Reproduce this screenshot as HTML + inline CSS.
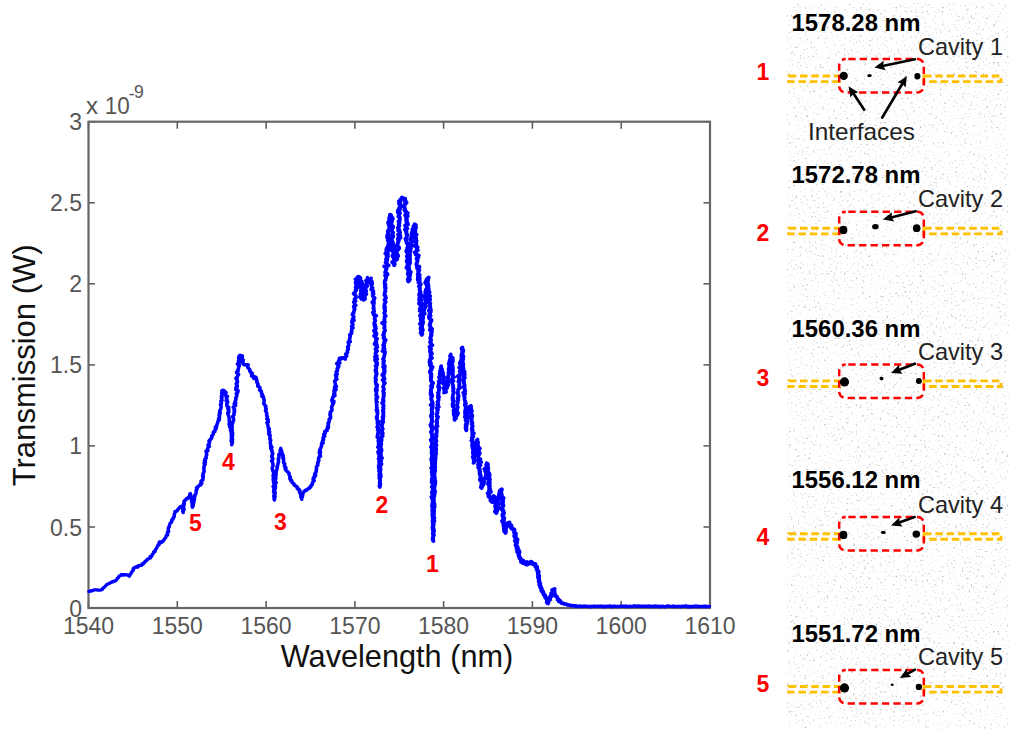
<!DOCTYPE html>
<html><head><meta charset="utf-8"><style>
html,body{margin:0;padding:0;background:#fff;}
body{width:1024px;height:729px;overflow:hidden;position:relative;font-family:"Liberation Sans", sans-serif;}
svg{position:absolute;left:0;top:0;}
</style></head><body>
<svg width="1024" height="729" viewBox="0 0 1024 729" font-family='"Liberation Sans", sans-serif'>
<defs><filter id="spk" x="0" y="0" width="1" height="1">
<feTurbulence type="fractalNoise" baseFrequency="0.45" numOctaves="2" seed="7"/>
<feColorMatrix type="matrix" values="0 0 0 0 0.6  0 0 0 0 0.6  0 0 0 0 0.6  6 0 0 0 -3.75"/>
<feGaussianBlur stdDeviation="0.6"/>
</filter></defs>
<rect x="787" y="3" width="222" height="726" filter="url(#spk)"/>
<g stroke="#555" stroke-width="1.5"><line x1="88.5" y1="608" x2="88.5" y2="601"/><line x1="88.5" y1="121.7" x2="88.5" y2="128.7"/><line x1="177.3" y1="608" x2="177.3" y2="601"/><line x1="177.3" y1="121.7" x2="177.3" y2="128.7"/><line x1="266.1" y1="608" x2="266.1" y2="601"/><line x1="266.1" y1="121.7" x2="266.1" y2="128.7"/><line x1="354.9" y1="608" x2="354.9" y2="601"/><line x1="354.9" y1="121.7" x2="354.9" y2="128.7"/><line x1="443.6" y1="608" x2="443.6" y2="601"/><line x1="443.6" y1="121.7" x2="443.6" y2="128.7"/><line x1="532.4" y1="608" x2="532.4" y2="601"/><line x1="532.4" y1="121.7" x2="532.4" y2="128.7"/><line x1="621.2" y1="608" x2="621.2" y2="601"/><line x1="621.2" y1="121.7" x2="621.2" y2="128.7"/><line x1="710.0" y1="608" x2="710.0" y2="601"/><line x1="710.0" y1="121.7" x2="710.0" y2="128.7"/><line x1="88.5" y1="608.0" x2="95.0" y2="608.0"/><line x1="710" y1="608.0" x2="703.5" y2="608.0"/><line x1="88.5" y1="527.0" x2="95.0" y2="527.0"/><line x1="710" y1="527.0" x2="703.5" y2="527.0"/><line x1="88.5" y1="445.9" x2="95.0" y2="445.9"/><line x1="710" y1="445.9" x2="703.5" y2="445.9"/><line x1="88.5" y1="364.9" x2="95.0" y2="364.9"/><line x1="710" y1="364.9" x2="703.5" y2="364.9"/><line x1="88.5" y1="283.8" x2="95.0" y2="283.8"/><line x1="710" y1="283.8" x2="703.5" y2="283.8"/><line x1="88.5" y1="202.8" x2="95.0" y2="202.8"/><line x1="710" y1="202.8" x2="703.5" y2="202.8"/><line x1="88.5" y1="121.7" x2="95.0" y2="121.7"/><line x1="710" y1="121.7" x2="703.5" y2="121.7"/></g>
<rect x="88.5" y="121.7" width="621.5" height="486.3" fill="none" stroke="#666" stroke-width="2.2"/>
<g fill="none" stroke="#0000ff" stroke-linejoin="round" stroke-linecap="round"><polyline points="88.8,591.4 90.0,591.4 91.0,590.7 92.2,590.9 93.2,590.3 94.4,589.8 95.6,589.8 96.9,589.8 98.2,590.2 99.3,590.2 100.4,590.2 101.5,589.8 102.4,589.2" stroke-width="3.3"/><polyline points="102.4,589.2 103.0,588.2 103.9,587.6 104.7,586.8 105.4,585.9 106.2,585.2 106.9,584.4 108.0,583.9 109.0,583.5 110.1,582.9 111.2,582.5 112.1,581.7 113.2,581.6" stroke-width="3.3"/><polyline points="113.2,581.6 114.3,581.2 115.3,580.9 116.1,580.2 116.9,579.4 117.3,578.3 118.3,577.8 118.6,576.7 119.4,576.0 120.5,575.7 121.4,574.6 122.6,575.1 123.7,574.7" stroke-width="3.4"/><polyline points="123.7,574.7 124.9,574.6 126.1,574.9 127.4,575.0 128.4,575.1 129.3,576.2 129.9,575.1 130.5,574.1 131.1,573.0 131.9,572.1 132.3,571.0 133.4,570.2 133.3,568.8" stroke-width="3.4"/><polyline points="133.3,568.8 134.3,567.7 135.3,567.3 136.2,566.6 137.7,567.2 138.2,565.7 139.5,565.7 140.5,565.2 141.8,565.2 142.2,563.9 143.6,563.7 144.1,562.5 145.0,561.8" stroke-width="3.4"/><polyline points="145.0,561.8 145.7,560.9 146.8,560.3 147.3,559.3 148.3,558.9 149.2,558.4 150.4,558.0 150.1,556.4 151.7,556.2 152.2,555.2 152.5,554.0 153.4,553.3 153.8,552.1" stroke-width="3.4"/><polyline points="153.8,552.1 155.0,551.5 155.3,550.2 155.9,549.2 156.5,548.2 157.0,547.2 157.6,546.2 157.9,545.1 159.2,544.6 158.9,542.7 159.9,541.8 161.5,542.5 162.2,541.7" stroke-width="3.4"/><polyline points="162.2,541.7 163.1,541.1 163.7,540.2 164.3,539.3 165.0,538.4 165.7,537.6 165.9,536.5 166.4,535.6 167.7,534.9 167.5,533.6 167.3,532.4 168.7,531.6 168.4,530.4" stroke-width="3.4"/><polyline points="168.4,530.4 168.2,529.2 168.3,528.0 169.2,527.0 169.3,525.8 169.6,524.7 170.0,523.5 170.7,522.7 171.7,522.1 171.6,520.9 171.7,519.9 172.9,519.3 173.1,518.3" stroke-width="3.4"/><polyline points="173.1,518.3 173.8,517.3 174.3,516.2 174.1,515.0 174.5,513.9 174.9,512.8 175.0,511.4 176.2,511.2 177.2,510.8 177.6,509.8 178.3,509.0 179.0,508.3 179.8,507.4" stroke-width="3.5"/><polyline points="179.8,507.4 180.8,506.7 182.1,506.2 182.5,507.2 182.6,508.3 183.3,509.2 182.8,510.4 183.2,511.5 183.1,512.5 182.7,511.4 183.6,510.4 184.1,509.3 183.4,508.2" stroke-width="3.5"/><polyline points="183.4,508.2 183.6,507.1 183.6,506.1 184.1,505.0 183.6,503.9 184.4,502.9 183.9,501.8 184.3,501.0 185.1,500.2 186.0,499.5 186.7,498.5 187.7,498.4 188.3,497.5" stroke-width="3.5"/><polyline points="188.3,497.5 189.2,496.7 189.6,495.6 189.8,494.4 190.4,493.6 190.4,494.7 191.0,495.7 191.3,496.7 191.4,497.8 191.1,498.9 191.4,500.0 192.1,500.9 191.8,502.1" stroke-width="3.5"/><polyline points="191.8,502.1 192.3,503.1 192.6,504.1 192.0,505.3 192.3,506.3 192.5,507.3 193.0,506.3 193.3,505.4 193.1,504.3 193.4,503.3 193.9,502.4 193.1,501.2 194.1,500.4" stroke-width="3.5"/><polyline points="194.1,500.4 194.5,499.4 194.5,498.4 194.0,497.2 194.9,496.3 194.8,495.1 195.7,494.2 196.0,493.1 196.2,491.9 196.0,490.9 196.3,489.9 197.1,489.0 196.6,487.9" stroke-width="3.5"/><polyline points="196.6,487.9 197.3,487.2 198.4,486.4 199.3,485.3 200.8,485.1 200.5,483.7 201.9,483.3 200.9,481.4 201.3,480.8 202.9,480.0 203.0,478.9 202.9,477.7 203.3,476.6" stroke-width="3.5"/><polyline points="203.3,476.6 202.6,475.5 203.2,474.5 203.1,473.5 203.6,472.5 204.2,471.5 203.9,470.4 204.1,469.4 203.7,468.4 203.9,467.3 204.3,466.3 204.2,465.3 205.0,464.3" stroke-width="3.5"/><polyline points="205.0,464.3 204.1,463.2 205.5,462.3 204.3,461.1 205.5,460.2 204.9,458.9 206.3,458.1 205.9,456.8 206.3,455.7 206.8,454.7 206.4,453.4 206.5,452.4 206.2,451.2" stroke-width="3.5"/><polyline points="206.2,451.2 208.0,450.6 207.4,449.3 207.7,448.3 208.2,447.3 209.4,446.6 207.9,445.1 209.1,444.3 209.0,443.2 209.7,442.3 208.9,441.0 209.8,440.1 210.7,439.2" stroke-width="3.5"/><polyline points="210.7,439.2 211.1,438.6 211.9,437.6 211.6,435.9 212.7,435.2 213.3,434.2 213.1,433.0 213.4,432.0 214.9,431.5 215.0,430.4 215.1,429.4 216.2,428.7 215.4,427.3" stroke-width="3.5"/><polyline points="215.4,427.3 216.6,426.6 216.6,425.5 216.8,424.6 217.4,423.7 217.6,422.7 217.9,421.7 218.2,420.8 219.3,420.1 218.5,418.8 219.4,418.0 219.5,416.9 219.2,415.8" stroke-width="3.5"/><polyline points="219.2,415.8 219.9,414.9 219.2,413.7 220.4,412.9 219.5,411.7 219.8,410.7 220.4,409.7 220.8,408.7 221.0,407.7 221.2,406.7 220.7,405.5 220.4,404.5 221.4,403.5" stroke-width="3.5"/><polyline points="221.4,403.5 221.4,402.5 220.8,401.3 222.1,400.5 221.8,399.4 221.3,398.2 222.2,397.3 221.3,396.1 221.8,395.1 222.7,394.2 221.6,393.0 222.7,392.1 222.0,390.9" stroke-width="3.5"/><polyline points="222.0,390.9 222.7,390.3 224.3,390.6 224.8,391.9 226.1,392.6 225.7,393.8 225.3,395.0 225.9,395.9 227.5,396.4 226.3,397.8 226.4,398.8 227.2,399.7 226.3,400.9" stroke-width="3.5"/><polyline points="226.3,400.9 227.8,401.7 227.4,402.8 226.8,403.9 226.8,405.0 226.9,406.0 228.4,406.9 228.9,407.9 227.8,409.0 228.9,409.9 228.3,411.0 229.0,412.0 227.8,413.2" stroke-width="3.5"/><polyline points="227.8,413.2 228.1,414.2 228.4,415.3 228.8,416.3 229.0,417.4 229.3,418.4 229.1,419.5 229.3,420.6 229.3,421.7 229.9,422.7 228.9,424.0 230.0,424.9 229.6,426.1" stroke-width="3.5"/><polyline points="229.6,426.1 229.8,427.2 231.2,428.1 231.8,429.1 230.4,430.4 231.3,431.4 231.1,432.5 231.4,433.5 231.2,434.5 231.9,435.5 231.4,436.6 231.6,437.6 231.5,438.6" stroke-width="3.5"/><polyline points="231.5,438.6 232.7,439.6 231.1,440.7 231.4,441.7 232.5,442.7 232.0,443.8 231.7,444.8 232.1,443.8 231.8,442.8 232.5,441.8 231.9,440.8 231.4,439.8 231.6,438.8" stroke-width="3.5"/><polyline points="231.6,438.8 232.4,437.8 231.7,436.8 232.5,435.8 232.6,434.8 232.5,433.8 232.7,432.8 232.1,431.7 232.3,430.7 232.0,429.7 232.0,428.7 231.6,427.7 232.1,426.7" stroke-width="3.5"/><polyline points="232.1,426.7 231.9,425.7 231.7,424.7 232.6,423.7 232.8,422.7 232.5,421.7 233.6,420.7 233.5,419.7 233.7,418.7 232.9,417.5 232.5,416.4 233.8,415.6 233.8,414.5" stroke-width="3.5"/><polyline points="233.8,414.5 234.1,413.5 234.1,412.5 234.7,411.5 234.0,410.4 234.6,409.4 233.9,408.3 233.2,407.1 234.4,406.2 235.7,405.4 234.1,404.0 235.8,403.2 235.0,402.0" stroke-width="3.5"/><polyline points="235.0,402.0 235.4,401.0 235.8,400.0 236.1,399.0 235.6,397.8 236.4,396.9 236.8,395.8 237.0,394.8 236.2,393.7 237.6,392.8 237.9,391.8 238.2,390.8 236.0,389.7" stroke-width="3.5"/><polyline points="236.0,389.7 237.0,388.7 235.8,387.6 237.2,386.7 237.4,385.6 236.4,384.6 236.2,383.5 237.3,382.6 237.6,381.6 236.8,380.5 237.2,379.5 235.8,378.4 237.0,377.4" stroke-width="3.5"/><polyline points="237.0,377.4 237.6,376.4 237.7,375.4 238.7,374.4 237.1,373.3 236.4,372.2 238.2,371.3 237.6,370.2 238.3,369.2 238.6,368.1 238.6,367.1 239.3,366.1 239.3,365.1" stroke-width="3.5"/><polyline points="239.3,365.1 237.4,363.9 238.5,362.9 239.9,361.9 238.4,360.7 239.4,359.7 238.8,358.6 238.6,357.5 240.0,356.5 239.0,356.1 240.2,355.2 240.7,355.6 242.4,356.1" stroke-width="3.5"/><polyline points="242.4,356.1 242.3,357.2 241.6,358.5 242.4,359.2 243.4,360.0 242.8,361.2 243.1,362.2 242.8,363.3 243.3,364.2 244.2,364.8 245.5,364.7 246.7,364.9 248.1,364.9" stroke-width="3.5"/><polyline points="248.1,364.9 247.5,366.3 247.8,367.3 248.3,368.2 249.2,368.9 250.0,369.8 249.6,371.0 250.7,371.7 250.8,372.8 252.3,373.2 252.1,374.5 251.5,376.0 253.4,376.3" stroke-width="3.5"/><polyline points="253.4,376.3 254.2,377.1 253.7,378.4 255.5,378.2 254.8,376.7 256.1,377.5 256.4,378.6 256.4,379.7 257.1,380.7 256.7,381.9 257.1,382.9 258.1,383.9 257.7,385.1" stroke-width="3.5"/><polyline points="257.7,385.1 257.7,386.1 258.9,386.7 259.9,387.4 259.9,389.0 259.6,390.2 261.2,390.8 261.5,391.8 261.3,393.0 262.0,393.9 262.6,394.8 261.7,396.2 263.4,396.9" stroke-width="3.5"/><polyline points="263.4,396.9 263.5,397.9 263.8,399.0 264.2,400.0 264.1,401.1 263.9,402.3 263.6,403.5 264.3,404.4 265.0,405.3 265.9,406.2 265.5,407.4 266.2,408.4 265.9,409.4" stroke-width="3.5"/><polyline points="265.9,409.4 265.4,410.6 266.0,411.5 266.4,412.5 266.8,413.5 266.6,414.6 266.6,415.6 267.4,416.6 267.3,417.6 266.7,418.8 268.2,419.6 267.7,420.7 268.2,421.7" stroke-width="3.5"/><polyline points="268.2,421.7 266.9,422.9 267.6,423.9 267.8,424.9 268.0,425.9 268.2,427.0 268.3,428.0 269.4,428.9 268.6,430.0 268.6,431.1 269.8,432.0 268.7,433.2 269.0,434.2" stroke-width="3.5"/><polyline points="269.0,434.2 270.2,435.1 269.8,436.2 269.9,437.2 270.1,438.2 269.8,439.3 270.8,440.2 270.4,441.3 270.3,442.4 270.2,443.4 270.6,444.4 270.9,445.4 270.6,446.5" stroke-width="3.5"/><polyline points="270.6,446.5 272.0,447.3 270.7,448.6 271.5,449.5 272.0,450.5 271.8,451.5 272.6,452.5 272.8,453.6 272.0,454.7 272.3,455.7 271.6,456.8 272.5,457.7 272.7,458.8" stroke-width="3.5"/><polyline points="272.7,458.8 272.7,459.8 271.5,460.9 272.3,461.9 272.7,462.9 272.9,464.0 273.1,465.0 272.7,466.1 272.5,467.1 272.2,468.2 272.3,469.2 272.8,470.2 273.2,471.2" stroke-width="3.5"/><polyline points="273.2,471.2 273.4,472.2 274.1,473.2 273.6,474.2 273.0,475.3 273.4,476.3 273.2,477.4 274.0,478.3 273.1,479.4 273.4,480.4 273.6,481.5 273.5,482.5 274.7,483.5" stroke-width="3.5"/><polyline points="274.7,483.5 274.0,484.5 274.2,485.5 273.1,486.6 274.0,487.6 274.1,488.6 273.6,489.7 274.4,490.7 273.5,491.8 274.4,492.8 274.2,493.8 274.6,494.8 273.9,495.9" stroke-width="3.5"/><polyline points="273.9,495.9 275.1,496.9 274.0,497.9 274.7,499.0 274.4,500.0 274.0,498.9 274.6,497.9 274.7,496.9 274.9,495.9 274.8,494.9 275.0,493.8 275.2,492.8 274.7,491.8" stroke-width="3.5"/><polyline points="274.7,491.8 274.4,490.7 274.5,489.7 275.3,488.7 274.9,487.6 275.6,486.6 275.2,485.6 274.8,484.5 275.7,483.6 276.2,482.6 275.4,481.5 275.1,480.4 275.2,479.4" stroke-width="3.5"/><polyline points="275.2,479.4 276.0,478.4 275.4,477.3 275.6,476.3 276.1,475.4 276.0,474.3 276.2,473.2 276.1,472.2 276.2,471.1 276.7,470.1 276.9,469.1 277.3,468.1 277.0,467.0" stroke-width="3.5"/><polyline points="277.0,467.0 277.5,466.0 277.8,465.0 277.8,463.9 278.2,462.9 278.6,462.0 278.4,460.9 278.5,459.8 278.2,458.7 279.0,457.8 279.0,456.7 279.1,455.7 279.0,454.6" stroke-width="3.5"/><polyline points="279.0,454.6 279.8,453.7 281.0,452.8 280.2,451.6 280.2,450.6 280.5,449.6 280.8,448.4 280.8,449.5 281.5,450.5 281.8,451.5 281.8,452.7 282.1,453.7 282.7,454.7" stroke-width="3.5"/><polyline points="282.7,454.7 283.2,455.7 282.8,456.8 283.6,457.7 283.0,458.9 283.7,459.8 283.7,460.9 283.5,462.0 283.8,463.0 284.8,463.9 284.5,465.0 284.4,466.0 285.2,467.0" stroke-width="3.5"/><polyline points="285.2,467.0 286.0,467.9 285.1,469.1 285.9,469.9 286.6,470.9 287.5,471.6 288.3,472.4 289.1,473.2 288.9,474.4 289.5,475.3 289.7,476.4 290.4,477.3 290.0,478.5" stroke-width="3.5"/><polyline points="290.0,478.5 290.8,479.4 290.6,480.5 291.8,480.8 292.0,482.4 292.9,483.1 293.9,483.8 294.2,485.2 295.3,485.7 296.3,486.4 297.2,487.1 297.3,488.6 298.5,489.1" stroke-width="3.6"/><polyline points="298.5,489.1 299.2,489.8 300.0,490.7 299.4,491.9 299.9,492.8 300.5,493.8 300.7,494.9 301.5,495.8 300.8,497.0 301.7,497.9 301.8,499.1 301.6,497.9 301.9,496.9" stroke-width="3.6"/><polyline points="301.9,496.9 302.5,496.0 302.8,494.9 302.6,493.7 303.3,492.8 303.7,492.0 304.6,491.2 305.4,490.3 306.6,490.1 307.4,489.4 308.3,488.7 309.4,488.1 310.1,487.2" stroke-width="3.6"/><polyline points="310.1,487.2 310.9,486.4 311.1,485.4 312.3,484.6 312.3,483.5 312.6,482.5 313.1,481.5 314.2,480.7 313.1,479.3 313.3,478.2 314.6,477.5 314.3,476.2 315.5,475.4" stroke-width="3.6"/><polyline points="315.5,475.4 314.7,474.2 315.1,473.2 316.0,472.3 316.2,471.3 316.2,470.2 316.5,469.2 316.4,468.2 316.5,467.1 316.9,466.1 317.8,465.2 317.7,464.2 317.7,463.1" stroke-width="3.6"/><polyline points="317.7,463.1 318.0,462.1 318.5,461.1 318.9,460.1 318.5,459.0 318.7,458.0 319.2,457.0 320.5,456.2 319.6,454.9 320.3,454.0 319.2,452.7 320.5,451.9 319.6,450.7" stroke-width="3.6"/><polyline points="319.6,450.7 320.0,449.7 320.4,448.7 320.9,447.7 321.2,446.7 321.5,445.7 321.7,444.7 321.5,443.6 323.2,442.9 322.4,441.6 322.7,440.6 323.6,439.8 323.3,438.6" stroke-width="3.6"/><polyline points="323.3,438.6 323.3,437.6 323.6,436.7 324.8,436.1 323.8,434.6 324.3,433.7 325.3,433.0 324.7,431.6 325.8,431.0 327.1,430.6 326.8,429.3 327.5,428.5 328.3,427.7" stroke-width="3.6"/><polyline points="328.3,427.7 327.5,426.5 328.5,425.6 328.2,424.5 328.1,423.4 328.8,422.4 329.1,421.4 329.1,420.4 329.2,419.3 330.3,418.5 330.6,417.5 330.5,416.4 330.3,415.3" stroke-width="3.6"/><polyline points="330.3,415.3 330.0,414.2 330.3,413.2 330.4,412.1 331.3,411.2 331.9,410.3 332.0,409.3 331.7,408.2 331.6,407.2 332.1,406.3 332.3,405.3 332.7,404.3 333.4,403.4" stroke-width="3.6"/><polyline points="333.4,403.4 332.3,402.2 334.0,401.5 331.8,400.1 332.2,399.1 332.5,398.2 332.9,397.2 333.5,396.3 335.0,395.6 333.6,394.3 334.8,393.5 334.1,392.4 334.6,391.4" stroke-width="3.6"/><polyline points="334.6,391.4 334.0,390.3 336.1,389.5 334.8,388.3 334.5,387.3 336.4,386.4 335.2,385.3 335.5,384.2 335.2,383.2 334.9,382.1 334.6,381.1 335.5,380.1 336.7,379.2" stroke-width="3.6"/><polyline points="336.7,379.2 336.1,378.1 335.8,377.0 336.7,376.1 335.5,374.9 337.2,374.1 336.5,372.9 336.2,371.8 337.3,371.0 337.5,369.9 337.1,368.8 337.7,367.9 338.4,366.9" stroke-width="3.6"/><polyline points="338.4,366.9 338.8,366.0 337.6,364.6 336.7,363.4 339.9,363.0 338.6,361.6 338.7,360.6 339.5,359.7 339.4,358.3 340.4,359.3 341.4,357.8 342.4,358.5 343.4,357.8" stroke-width="3.6"/><polyline points="343.4,357.8 345.3,359.0 344.8,357.5 346.1,356.8 346.7,355.9 345.7,354.1 346.8,353.4 347.6,352.5 347.3,351.4 347.4,350.4 348.2,349.5 348.4,348.5 347.6,347.3" stroke-width="3.6"/><polyline points="347.6,347.3 348.1,346.4 348.8,345.5 348.7,344.4 348.8,343.4 348.1,342.2 350.3,341.6 349.2,340.3 349.7,339.3 349.7,338.2 350.0,337.1 350.3,336.1 349.8,334.9" stroke-width="3.6"/><polyline points="349.8,334.9 350.9,334.0 351.7,333.1 351.3,331.9 351.8,330.9 351.8,329.8 351.7,328.7 353.1,327.8 351.5,326.5 352.4,325.6 353.0,324.6 352.7,323.5 351.9,322.3" stroke-width="3.6"/><polyline points="351.9,322.3 352.0,321.2 354.1,320.4 352.4,319.1 353.2,318.2 353.8,317.2 353.6,316.1 352.4,314.8 352.5,313.7 353.9,312.8 353.6,311.7 354.1,310.7 354.5,309.6" stroke-width="3.6"/><polyline points="354.5,309.6 354.8,308.6 353.8,307.3 353.7,306.2 355.8,305.3 354.7,304.2 354.3,303.1 353.7,302.1 355.7,301.1 354.4,300.0 354.6,298.9 356.0,297.9 355.8,296.9" stroke-width="3.6"/><polyline points="355.8,296.9 356.0,295.8 354.7,294.7 353.5,293.6 355.0,292.6 355.6,291.6 355.4,290.5 356.7,289.7 356.4,288.6 355.4,287.5 356.7,286.6 356.3,285.5 356.1,284.5" stroke-width="3.6"/><polyline points="356.1,284.5 357.5,283.6 355.4,282.4 357.6,281.6 357.8,280.6 355.3,279.4 356.9,278.5 357.2,277.4 358.5,276.6 360.3,277.5 360.6,278.5 359.9,279.6 360.5,280.6" stroke-width="3.6"/><polyline points="360.5,280.6 361.9,281.5 359.3,282.8 359.7,283.8 361.2,284.7 359.9,285.9 359.1,287.0 362.0,287.8 361.2,288.9 361.4,290.0 360.6,291.0 361.4,292.0 362.3,292.9" stroke-width="3.6"/><polyline points="362.3,292.9 360.3,294.1 361.6,295.0 360.8,296.0 359.7,297.1 362.1,298.0 361.3,299.0 362.4,298.1 361.7,297.0 362.3,296.0 362.0,295.0 364.3,294.2 362.7,293.0" stroke-width="3.6"/><polyline points="362.7,293.0 362.5,292.0 362.4,291.0 362.7,290.0 361.2,288.9 362.4,288.0 363.3,287.1 361.9,285.9 362.9,285.0 363.1,284.0 363.5,285.0 361.2,286.2 362.7,287.1" stroke-width="3.6"/><polyline points="362.7,287.1 363.1,288.0 364.1,288.9 363.5,290.0 363.9,291.0 363.9,292.0 363.7,293.0 362.0,294.2 363.1,295.1 362.9,296.1 363.2,297.1 362.2,298.2 365.0,298.9" stroke-width="3.6"/><polyline points="365.0,298.9 363.6,299.9 364.9,299.0 365.0,298.0 364.9,297.0 364.5,296.0 365.6,295.1 366.5,294.1 365.4,293.0 365.2,292.0 366.4,291.1 365.3,290.0 365.3,289.0" stroke-width="3.6"/><polyline points="365.3,289.0 366.0,288.0 364.0,286.8 367.4,286.1 365.9,285.0 366.6,284.0 366.7,282.9 367.0,281.9 365.8,280.5 368.5,279.9 367.7,278.7 367.4,277.7 368.0,280.4" stroke-width="3.6"/><polyline points="368.0,280.4 371.2,278.3 369.8,279.7 370.7,280.6 372.0,281.5 369.4,283.0 372.4,283.6 371.2,284.9 371.6,285.9 371.6,287.0 372.7,287.9 371.0,289.3 372.1,290.2" stroke-width="3.6"/><polyline points="372.1,290.2 373.4,291.1 373.5,292.1 372.5,293.2 373.7,294.1 372.6,295.2 372.8,296.2 373.6,297.1 374.8,298.0 374.4,299.1 373.3,300.2 374.1,301.2 372.3,302.3" stroke-width="3.6"/><polyline points="372.3,302.3 374.1,303.3 373.5,304.3 373.3,305.3 373.8,306.4 373.7,307.4 373.2,308.4 374.1,309.4 373.8,310.5 374.3,311.5 372.6,312.6 374.0,313.6 373.6,314.6" stroke-width="3.6"/><polyline points="373.6,314.6 376.4,315.6 374.6,316.7 375.1,317.6 374.4,318.7 374.8,319.7 375.4,320.6 374.9,321.7 374.2,322.8 374.1,323.8 375.4,324.7 374.3,325.8 375.6,326.7" stroke-width="3.6"/><polyline points="375.6,326.7 374.9,327.7 376.0,328.7 374.7,329.8 373.8,330.8 375.8,331.7 374.7,332.8 376.7,333.7 376.1,334.8 373.9,335.9 375.8,336.8 375.5,337.9 377.0,338.8" stroke-width="3.6"/><polyline points="377.0,338.8 376.0,339.9 376.5,340.9 375.2,342.0 376.5,342.9 374.4,344.1 377.0,345.0 376.0,346.0 377.5,347.0 376.4,348.0 375.3,349.0 376.2,350.0 377.0,351.0" stroke-width="3.6"/><polyline points="377.0,351.0 375.8,352.0 375.5,353.0 375.8,354.0 375.4,355.0 377.0,356.0 374.8,357.0 375.6,358.0 377.4,359.0 374.8,360.0 376.3,361.0 375.7,362.0 377.3,363.0" stroke-width="3.6"/><polyline points="377.3,363.0 376.4,364.0 377.2,365.0 375.4,366.0 376.1,367.0 376.5,368.0 376.2,369.0 375.2,370.0 376.4,371.0 375.5,372.0 376.6,373.0 376.9,374.0 376.2,375.0" stroke-width="3.6"/><polyline points="376.2,375.0 376.0,376.0 375.7,377.0 375.2,378.0 376.1,379.0 376.0,380.0 375.4,381.0 375.6,382.0 375.9,383.0 375.8,384.0 377.3,385.0 376.4,386.0 377.0,387.0" stroke-width="3.6"/><polyline points="377.0,387.0 376.3,388.0 375.6,389.0 377.2,390.0 375.6,391.0 376.6,392.0 376.4,393.0 376.6,394.0 375.9,395.0 376.8,396.0 377.6,397.0 376.3,398.0 376.6,399.0" stroke-width="3.6"/><polyline points="376.6,399.0 376.2,400.0 376.2,401.0 377.3,402.0 376.5,403.0 376.6,404.0 376.8,405.0 376.7,406.0 376.6,407.0 377.1,408.0 376.9,409.0 376.3,410.0 377.5,411.0" stroke-width="3.6"/><polyline points="377.5,411.0 377.0,412.0 377.6,413.0 377.6,414.0 377.3,415.0 377.1,416.0 376.4,417.0 377.4,418.0 376.8,419.0 377.1,420.0 377.4,421.0 379.2,421.9 377.5,423.0" stroke-width="3.6"/><polyline points="377.5,423.0 377.6,424.0 378.2,425.0 377.7,426.0 377.0,427.0 378.4,428.0 378.2,429.0 377.5,430.0 378.9,430.9 378.6,432.0 378.0,433.0 377.7,434.0 377.6,435.0" stroke-width="3.6"/><polyline points="377.6,435.0 377.9,436.0 377.1,437.1 378.2,438.0 379.1,439.0 378.6,440.0 378.2,441.0 378.4,442.0 379.6,443.0 378.4,444.0 379.1,445.0 378.8,446.0 378.0,447.0" stroke-width="3.6"/><polyline points="378.0,447.0 378.8,448.0 379.1,449.0 378.9,450.0 379.2,451.0 377.9,452.0 378.5,453.0 378.5,454.0 379.3,455.0 379.3,456.0 378.9,457.0 380.1,458.0 378.6,459.0" stroke-width="3.6"/><polyline points="378.6,459.0 379.7,460.0 379.1,461.0 379.0,462.0 379.6,463.0 379.1,464.0 379.0,465.0 378.5,466.0 379.2,467.0 378.6,468.0 379.2,469.0 379.5,470.0 379.1,471.0" stroke-width="3.6"/><polyline points="379.1,471.0 379.8,472.0 379.5,473.0 379.3,474.0 379.1,475.0 379.5,476.0 380.3,477.0 379.1,478.0 379.7,479.0 379.9,480.0 380.2,481.0 379.6,482.0 379.7,483.0" stroke-width="3.6"/><polyline points="379.7,483.0 379.6,484.0 380.0,485.0 379.3,486.0 379.9,487.0 380.2,486.0 380.1,485.0 380.6,484.0 379.8,483.0 380.0,482.0 380.1,481.0 379.9,480.0 380.0,479.0" stroke-width="3.6"/><polyline points="380.0,479.0 379.8,478.0 380.7,477.0 381.0,476.0 379.9,475.0 380.8,474.0 379.9,473.0 380.1,472.0 380.4,471.0 380.6,470.0 380.8,469.0 379.7,468.0 380.0,467.0" stroke-width="3.6"/><polyline points="380.0,467.0 380.7,466.0 380.6,465.0 381.7,464.0 380.6,463.0 380.5,462.0 381.4,461.0 379.6,460.0 380.0,459.0 382.2,458.0 380.7,457.0 381.0,456.0 380.9,455.0" stroke-width="3.6"/><polyline points="380.9,455.0 380.6,454.0 381.0,453.0 380.5,452.0 381.6,451.0 381.6,450.0 381.5,449.0 380.8,448.0 380.3,447.0 381.1,446.0 380.8,445.0 381.6,444.0 380.6,443.0" stroke-width="3.6"/><polyline points="380.6,443.0 381.0,442.0 381.5,441.0 381.7,440.0 381.6,439.0 381.0,438.0 381.3,437.0 382.8,436.1 382.3,435.0 381.4,434.0 382.9,433.1 381.9,432.0 382.0,431.0" stroke-width="3.7"/><polyline points="382.0,431.0 381.6,430.0 382.9,429.0 382.2,428.0 382.2,427.0 381.8,426.0 381.6,425.0 382.5,424.0 382.4,423.0 383.3,422.0 382.1,421.0 382.4,420.0 383.2,419.0" stroke-width="3.7"/><polyline points="383.2,419.0 383.2,418.0 382.4,417.0 383.6,416.0 383.1,415.0 383.4,414.0 383.2,413.0 383.6,412.0 382.8,411.0 382.9,410.0 383.7,409.0 383.3,408.0 383.3,407.0" stroke-width="3.7"/><polyline points="383.3,407.0 383.8,406.0 383.3,405.0 383.4,404.0 382.0,403.0 383.0,402.0 383.8,401.0 382.8,400.0 383.2,399.0 383.5,398.0 383.3,397.0 383.9,396.0 383.7,395.0" stroke-width="3.7"/><polyline points="383.7,395.0 383.4,394.0 384.1,393.0 383.3,392.0 383.1,391.0 383.7,390.0 384.0,389.0 383.5,388.0 383.0,387.0 383.3,386.0 383.8,385.0 384.1,384.0 384.8,383.0" stroke-width="3.7"/><polyline points="384.8,383.0 383.7,382.0 383.6,381.0 382.5,380.0 384.6,379.0 384.4,378.0 383.8,377.0 383.4,376.0 382.2,375.0 384.3,374.0 383.4,373.0 384.8,372.0 384.4,371.0" stroke-width="3.7"/><polyline points="384.4,371.0 384.7,370.0 383.8,369.0 384.7,368.0 383.0,367.0 384.9,366.0 383.9,365.0 383.2,364.0 383.7,363.0 383.3,362.0 384.2,361.0 383.5,360.0 383.2,359.0" stroke-width="3.7"/><polyline points="383.2,359.0 383.8,358.0 383.9,357.0 384.2,356.0 384.5,355.0 384.9,354.0 384.3,353.0 385.2,352.0 382.4,351.0 384.0,350.0 384.7,349.0 383.2,348.0 384.0,347.0" stroke-width="3.7"/><polyline points="384.0,347.0 384.3,346.0 383.1,345.0 383.8,344.0 384.6,343.0 384.0,342.0 385.3,341.0 385.8,340.0 384.2,339.0 383.4,338.0 384.2,337.0 383.8,336.0 383.2,335.0" stroke-width="3.7"/><polyline points="383.2,335.0 384.0,334.0 383.9,333.0 384.0,332.0 384.9,331.0 385.1,330.0 384.6,329.0 384.1,328.0 384.7,327.0 384.4,326.0 384.6,325.0 383.7,324.0 382.2,322.9" stroke-width="3.7"/><polyline points="382.2,322.9 385.1,322.0 384.1,321.0 384.2,320.0 384.6,319.0 384.6,318.0 384.4,317.0 385.8,316.0 384.8,315.0 384.9,314.0 384.1,313.0 384.7,312.0 385.1,311.0" stroke-width="3.7"/><polyline points="385.1,311.0 384.7,310.0 385.1,309.0 384.1,308.0 385.2,307.0 384.1,306.0 384.6,305.0 384.4,304.0 385.1,303.0 385.8,302.0 385.2,301.0 384.4,300.0 385.2,299.0" stroke-width="3.7"/><polyline points="385.2,299.0 385.9,298.0 385.7,297.0 385.5,296.0 384.3,295.0 384.8,294.0 384.7,293.0 384.9,292.0 385.5,291.0 385.3,290.0 385.1,289.0 385.8,288.0 384.9,286.9" stroke-width="3.8"/><polyline points="384.9,286.9 385.2,285.9 385.6,284.8 384.5,283.8 384.9,282.7 384.6,281.7 384.9,280.7 385.7,279.7 385.7,278.6 386.1,277.6 386.2,276.6 385.0,275.5 387.5,274.5" stroke-width="3.8"/><polyline points="387.5,274.5 387.1,273.5 385.1,272.5 385.5,271.5 385.7,270.5 386.3,269.5 386.7,268.5 386.2,267.5 384.1,266.4 388.7,265.5 387.0,264.5 387.0,263.5 385.7,262.4" stroke-width="3.8"/><polyline points="385.7,262.4 386.5,261.5 387.2,260.5 386.0,259.4 387.4,258.5 386.6,257.4 387.9,256.5 386.6,255.4 387.9,254.5 385.3,253.4 387.9,252.5 387.1,251.4 386.4,250.4" stroke-width="3.8"/><polyline points="386.4,250.4 387.7,249.4 386.5,248.4 387.5,247.5 387.7,246.5 388.0,245.5 389.1,244.6 388.5,243.5 389.6,242.6 388.2,241.4 387.8,240.4 388.1,239.4 387.9,238.3" stroke-width="3.8"/><polyline points="387.9,238.3 387.0,237.2 388.3,236.3 387.2,235.2 388.1,234.2 388.2,233.2 388.0,232.2 387.7,231.1 388.8,230.1 388.7,229.1 390.1,228.2 389.5,227.1 389.9,226.1" stroke-width="3.9"/><polyline points="389.9,226.1 388.7,225.0 388.9,223.9 388.1,222.8 388.5,221.8 390.1,220.9 389.3,219.8 389.4,218.8 389.1,217.7 391.1,216.8 389.8,215.7 390.0,214.6 391.2,215.6" stroke-width="3.9"/><polyline points="391.2,215.6 390.5,216.9 392.4,217.8 392.9,218.9 390.8,220.3 392.1,221.2 391.7,222.3 391.2,223.4 391.4,224.5 391.8,225.5 393.2,226.5 392.8,227.6 392.2,228.7" stroke-width="3.9"/><polyline points="392.2,228.7 391.7,229.7 391.9,230.8 392.1,231.8 393.2,232.8 392.5,233.9 391.7,234.9 393.3,236.1 392.9,237.0 391.5,237.9 390.9,238.9 391.8,240.0 392.1,241.0" stroke-width="3.9"/><polyline points="392.1,241.0 392.8,242.1 392.0,243.0 392.5,244.1 391.6,245.0 391.0,245.9 391.2,247.0 390.4,247.9 392.3,249.1 390.3,249.7 392.7,249.4 392.8,248.3 391.4,246.7" stroke-width="3.9"/><polyline points="391.4,246.7 392.7,246.0 392.0,244.7 393.2,244.0 393.0,245.0 392.4,246.0 394.1,247.0 394.4,248.0 392.9,249.0 393.7,250.0 392.2,251.0 394.4,252.0 394.1,253.0" stroke-width="3.9"/><polyline points="394.1,253.0 395.9,253.9 392.6,255.0 392.5,256.0 393.3,257.0 393.9,258.0 395.4,258.9 394.9,260.0 394.2,261.0 392.2,262.1 393.1,263.0 394.4,264.0 394.3,265.0" stroke-width="3.9"/><polyline points="394.3,265.0 394.4,264.0 394.5,263.0 393.3,261.9 393.8,261.0 395.1,260.1 394.9,259.0 394.1,258.0 396.6,257.2 394.8,256.0 394.3,255.0 395.5,254.1 395.5,253.1" stroke-width="3.9"/><polyline points="395.5,253.1 394.7,252.0 396.5,251.1 394.1,250.1 395.1,251.0 394.6,252.1 394.8,253.1 395.7,254.0 395.0,255.1 396.2,255.9 396.0,257.0 395.4,258.1 397.1,258.9" stroke-width="3.9"/><polyline points="397.1,258.9 395.9,260.0 395.5,258.9 397.0,258.1 396.0,257.0 398.1,256.1 397.9,255.1 396.1,254.0 396.9,253.0 396.6,252.0 396.9,251.0 397.6,250.0 398.4,249.1" stroke-width="3.9"/><polyline points="398.4,249.1 399.1,248.3 399.0,247.2 396.5,245.7 397.3,244.8 397.8,243.8 397.8,242.8 398.3,241.8 398.8,240.8 397.9,239.8 397.8,238.7 400.5,237.9 399.0,236.8" stroke-width="3.9"/><polyline points="399.0,236.8 400.4,235.9 398.0,234.7 399.8,233.8 400.1,232.8 399.9,231.8 398.1,230.7 399.3,229.7 398.2,228.7 397.9,227.7 398.9,226.7 399.4,225.7 398.8,224.6" stroke-width="3.9"/><polyline points="398.8,224.6 398.9,223.6 399.6,222.6 398.5,221.5 399.5,220.5 399.9,219.5 399.8,218.5 399.7,217.4 398.3,216.4 399.0,215.4 398.9,214.3 400.0,213.3 397.8,212.2" stroke-width="3.9"/><polyline points="397.8,212.2 399.5,211.3 398.0,210.2 400.1,209.2 399.0,208.2 399.6,207.2 400.5,206.2 401.1,205.6 399.0,203.7 400.4,203.0 398.8,201.3 400.7,200.7 400.6,199.5" stroke-width="3.9"/><polyline points="400.6,199.5 402.2,198.8 402.0,197.4 403.0,198.3 405.2,198.7 404.7,199.9 405.7,200.8 404.9,202.1 406.6,202.7 405.2,204.1 404.7,205.1 403.3,206.2 404.4,207.2" stroke-width="3.9"/><polyline points="404.4,207.2 404.6,208.2 405.1,209.2 404.4,210.2 406.0,211.1 405.6,212.2 407.8,213.1 406.6,214.1 405.1,215.2 407.8,216.1 406.0,217.2 406.3,218.2 406.7,219.2" stroke-width="3.9"/><polyline points="406.7,219.2 406.1,220.2 406.4,221.2 407.4,222.2 406.5,223.3 408.1,224.3 405.1,225.4 406.5,226.4 405.7,227.4 407.4,228.4 404.9,229.5 405.7,230.5 406.3,231.5" stroke-width="3.9"/><polyline points="406.3,231.5 406.4,232.6 406.3,233.6 407.3,234.6 406.8,235.7 406.9,236.7 406.4,237.7 405.4,238.8 405.8,239.8 406.6,240.8 406.3,241.9 407.2,242.9 407.4,243.9" stroke-width="3.9"/><polyline points="407.4,243.9 408.4,244.9 408.2,245.9 408.1,246.9 407.2,248.0 407.4,249.0 406.9,250.1 406.3,251.1 406.8,252.2 407.5,253.2 407.8,254.2 407.7,255.2 407.0,256.3" stroke-width="3.9"/><polyline points="407.0,256.3 408.3,257.2 408.9,258.2 407.8,259.3 406.8,260.4 406.7,261.4 407.3,262.4 409.4,263.4 408.0,264.5 407.3,265.5 407.1,266.6 406.5,267.7 408.9,268.6" stroke-width="3.9"/><polyline points="408.9,268.6 407.9,269.7 409.5,270.7 408.5,271.8 408.7,272.9 407.8,274.0 408.4,275.0 410.0,275.9 408.8,277.1 408.5,278.2 407.7,279.3 409.5,280.2 408.3,281.3" stroke-width="3.9"/><polyline points="408.3,281.3 408.6,280.3 409.9,279.3 408.9,278.2 409.2,277.2 409.6,276.2 408.6,275.1 410.2,274.1 408.0,273.0 410.9,272.1 408.9,271.0 408.7,269.9 408.9,268.9" stroke-width="3.9"/><polyline points="408.9,268.9 408.6,267.9 408.8,266.9 408.9,265.8 408.7,264.8 409.5,263.8 410.0,262.8 409.3,261.7 410.0,260.7 409.1,259.6 410.1,258.6 409.7,257.6 409.0,256.5" stroke-width="3.9"/><polyline points="409.0,256.5 410.1,255.6 409.9,254.5 409.5,253.5 410.1,252.5 410.6,251.4 409.2,250.3 409.9,249.4 410.9,248.4 410.5,247.4 411.3,246.4 412.8,245.6 409.7,244.3" stroke-width="3.9"/><polyline points="409.7,244.3 411.2,243.4 410.7,242.3 412.4,241.5 411.7,240.4 410.1,239.2 412.4,238.4 411.5,237.3 411.3,236.3 411.7,235.3 412.2,234.3 411.6,233.0 412.3,232.0" stroke-width="3.9"/><polyline points="412.3,232.0 414.1,231.3 412.3,229.7 413.0,228.7 414.5,228.0 413.4,226.4 414.4,225.4 414.7,224.3 415.9,225.3 415.4,226.4 416.0,227.4 415.4,228.4 415.1,229.5" stroke-width="3.9"/><polyline points="415.1,229.5 415.4,230.5 415.2,231.6 415.2,232.6 414.9,233.7 416.6,234.6 415.6,235.7 414.4,236.8 416.0,237.8 416.1,238.8 415.9,239.9 416.6,240.9 415.6,242.0" stroke-width="3.9"/><polyline points="415.6,242.0 416.1,243.0 416.3,244.0 415.6,245.1 415.3,246.2 417.6,247.1 416.9,248.1 416.7,249.2 417.8,250.2 416.1,251.3 414.9,252.5 416.1,253.4 415.8,254.5" stroke-width="3.9"/><polyline points="415.8,254.5 418.7,255.4 417.5,256.5 418.3,257.5 416.6,258.7 417.4,259.7 417.6,260.7 417.1,261.8 416.9,262.9 416.3,264.0 416.6,265.0 417.0,266.0 419.3,266.9" stroke-width="3.9"/><polyline points="419.3,266.9 417.0,268.1 418.0,269.0 419.4,270.0 418.1,271.1 418.5,272.1 418.5,273.1 417.7,274.2 419.7,275.1 418.1,276.2 417.8,277.3 419.8,278.2 417.8,279.4" stroke-width="3.9"/><polyline points="417.8,279.4 419.6,280.2 419.7,281.3 418.4,282.4 419.2,283.3 420.8,284.2 419.9,285.3 418.9,286.4 419.9,287.4 419.9,288.4 419.6,289.4 419.7,290.4 420.3,291.4" stroke-width="3.9"/><polyline points="420.3,291.4 420.5,292.4 419.5,293.5 419.0,294.5 422.0,295.4 419.7,296.5 419.4,297.6 420.9,298.5 419.1,299.7 421.5,300.5 419.7,301.7 419.2,302.7 419.3,303.7" stroke-width="3.9"/><polyline points="419.3,303.7 422.6,304.6 420.6,305.7 421.5,306.7 420.5,307.8 419.8,308.8 420.6,309.8 419.7,310.8 422.2,311.8 421.6,312.8 421.4,313.8 420.6,314.8 420.2,315.8" stroke-width="3.9"/><polyline points="420.2,315.8 421.8,316.8 421.9,317.8 420.6,318.8 422.2,319.8 420.9,320.8 421.9,321.8 421.4,322.8 419.9,323.9 421.6,324.8 421.4,325.8 422.1,326.8 421.1,327.8" stroke-width="3.9"/><polyline points="421.1,327.8 420.5,328.8 421.2,329.8 422.6,330.8 421.4,331.8 420.6,332.8 422.4,333.8 421.7,334.8 421.2,333.7 421.6,332.7 421.4,331.7 421.2,330.6 422.6,329.7" stroke-width="3.9"/><polyline points="422.6,329.7 422.3,328.7 420.8,327.5 421.7,326.6 422.0,325.6 421.9,324.5 422.9,323.6 422.7,322.6 423.2,321.6 422.0,320.5 422.5,319.5 422.9,318.5 423.0,317.5" stroke-width="3.9"/><polyline points="423.0,317.5 423.1,316.4 422.9,315.4 423.4,314.4 424.8,313.6 423.2,312.3 422.6,311.2 424.2,310.4 423.4,309.2 424.8,308.4 425.2,307.4 425.8,306.4 424.7,305.2" stroke-width="3.9"/><polyline points="424.7,305.2 423.5,304.0 426.1,303.3 425.7,302.3 426.1,301.3 425.3,300.1 425.1,299.1 425.5,298.1 424.1,296.9 426.4,296.1 425.3,295.0 425.4,294.0 426.2,293.0" stroke-width="3.9"/><polyline points="426.2,293.0 425.3,291.9 426.7,291.0 425.7,289.9 428.1,289.1 427.3,288.0 427.0,286.9 426.8,285.9 426.7,284.8 426.3,283.8 425.2,282.7 426.4,281.7 426.3,280.7" stroke-width="3.9"/><polyline points="426.3,280.7 426.6,279.7 427.2,278.7 428.7,277.5 428.3,278.6 428.0,279.7 428.0,280.8 427.1,282.0 425.8,283.2 428.2,283.9 427.7,285.1 428.4,286.0 428.3,287.1" stroke-width="3.9"/><polyline points="428.3,287.1 427.3,288.3 428.7,289.2 428.5,290.2 429.0,291.2 429.6,292.2 428.3,293.3 429.3,294.3 428.1,295.4 430.2,296.3 429.0,297.4 428.1,298.5 430.0,299.4" stroke-width="3.9"/><polyline points="430.0,299.4 429.3,300.5 428.4,301.6 429.3,302.5 430.3,303.5 430.0,304.6 429.6,305.6 430.3,306.6 430.2,307.6 429.9,308.7 430.9,309.7 428.8,310.8 430.6,311.7" stroke-width="3.9"/><polyline points="430.6,311.7 430.2,312.8 430.1,313.8 429.2,314.9 430.6,315.9 428.9,316.9 429.0,317.9 429.9,318.9 431.4,319.9 431.4,320.9 430.7,321.9 430.3,322.9 430.0,323.9" stroke-width="3.9"/><polyline points="430.0,323.9 429.6,324.9 430.2,325.9 430.5,326.9 430.3,327.9 432.1,328.9 429.8,330.0 431.7,330.9 432.0,331.9 431.2,332.9 431.0,334.0 431.6,334.9 430.9,336.0" stroke-width="3.9"/><polyline points="430.9,336.0 430.7,337.0 430.3,338.0 430.5,339.0 431.2,340.0 430.7,341.0 430.0,342.0 431.0,343.0 431.0,344.0 432.4,345.0 430.7,346.0 429.5,347.0 430.4,348.0" stroke-width="3.9"/><polyline points="430.4,348.0 431.1,349.0 430.1,350.0 430.1,351.0 430.0,352.0 431.8,353.0 431.8,354.0 430.5,355.0 430.7,356.0 430.7,357.0 432.0,358.0 430.5,359.0 429.8,360.0" stroke-width="3.9"/><polyline points="429.8,360.0 430.3,361.0 429.4,362.0 430.8,363.0 431.0,364.0 429.9,365.0 430.5,366.0 432.6,367.0 432.1,368.0 431.0,369.0 431.5,370.0 430.0,371.0 430.2,372.0" stroke-width="3.9"/><polyline points="430.2,372.0 430.4,373.0 431.4,374.0 431.4,375.0 430.7,376.0 431.5,377.0 430.8,378.0 431.1,379.0 430.8,380.0 431.2,381.0 431.8,382.0 433.1,383.0 432.2,384.0" stroke-width="3.9"/><polyline points="432.2,384.0 432.2,385.0 430.9,386.0 432.2,387.0 431.7,388.0 431.1,389.0 431.0,390.0 430.8,391.0 431.1,392.0 430.5,393.0 431.8,394.0 430.7,395.0 432.2,396.0" stroke-width="3.9"/><polyline points="432.2,396.0 431.7,397.0 431.2,398.0 431.1,399.0 431.6,400.0 431.9,401.0 432.2,402.0 432.8,403.0 432.6,404.0 430.6,405.0 432.6,406.0 432.4,407.0 432.5,408.0" stroke-width="3.9"/><polyline points="432.5,408.0 431.7,409.0 431.7,410.0 431.9,411.0 432.3,412.0 431.7,413.0 432.4,414.0 431.4,415.0 430.8,416.0 432.2,417.0 431.5,418.0 431.9,419.0 431.9,420.0" stroke-width="3.9"/><polyline points="431.9,420.0 432.4,421.0 431.6,422.0 431.7,423.0 431.0,424.0 430.4,425.0 432.3,426.0 431.1,427.0 432.2,428.0 432.0,429.0 432.4,430.0 431.5,431.0 431.1,432.0" stroke-width="3.9"/><polyline points="431.1,432.0 431.8,433.0 431.7,434.0 432.2,435.0 432.0,436.0 432.5,437.0 431.9,438.0 432.9,439.0 430.7,440.0 431.2,441.0 432.1,442.0 432.1,443.0 432.1,444.0" stroke-width="3.9"/><polyline points="432.1,444.0 431.8,445.0 431.8,446.0 430.9,447.0 432.1,448.0 432.9,449.0 431.8,450.0 431.7,451.0 432.3,452.0 431.5,453.0 432.0,454.0 432.4,455.0 432.0,456.0" stroke-width="3.9"/><polyline points="432.0,456.0 432.6,457.0 432.2,458.0 431.2,459.0 431.4,460.0 431.7,461.0 432.0,462.0 431.9,463.0 432.6,464.0 432.0,465.0 432.4,466.0 432.4,467.0 431.4,468.0" stroke-width="3.9"/><polyline points="431.4,468.0 432.5,469.0 432.1,470.0 432.1,471.0 431.7,472.0 432.3,473.0 432.0,474.0 432.1,475.0 432.3,476.0 432.5,477.0 432.7,478.0 431.8,479.0 432.7,480.0" stroke-width="3.9"/><polyline points="432.7,480.0 431.8,481.0 431.6,482.0 432.6,483.0 432.8,484.0 432.8,485.0 432.6,486.0 431.8,487.0 432.7,488.0 432.9,489.0 433.1,490.0 432.4,491.0 432.3,492.0" stroke-width="3.9"/><polyline points="432.3,492.0 431.9,493.0 432.4,494.0 432.5,495.0 432.5,496.0 431.4,497.0 431.9,498.0 432.2,499.0 432.7,500.0 432.7,501.0 432.7,502.0 432.7,503.0 432.5,504.0" stroke-width="3.9"/><polyline points="432.5,504.0 432.9,505.0 431.9,506.0 433.1,507.0 432.5,508.0 432.4,509.0 432.4,510.0 432.2,511.0 432.6,512.0 432.7,513.0 432.3,514.0 432.3,515.0 432.8,516.0" stroke-width="3.8"/><polyline points="432.8,516.0 432.5,517.0 433.3,518.0 432.7,519.0 433.6,520.0 432.5,521.0 433.1,522.0 432.6,523.0 432.8,524.0 433.2,525.0 432.7,526.0 432.4,527.0 433.3,528.0" stroke-width="3.8"/><polyline points="433.3,528.0 432.4,529.0 432.9,530.0 433.3,531.0 433.1,532.0 432.9,533.0 432.8,534.0 433.4,535.0 433.2,536.0 433.0,537.0 433.1,538.0 432.5,539.0 432.9,540.0" stroke-width="3.8"/><polyline points="432.9,540.0 433.5,541.0 432.9,540.0 433.0,539.0 432.9,538.0 433.3,537.0 433.5,536.0 433.9,535.0 433.7,534.0 433.1,533.0 433.4,532.0 434.2,531.0 433.5,530.0" stroke-width="3.8"/><polyline points="433.5,530.0 433.7,529.0 433.0,528.0 433.0,527.0 433.4,526.0 433.5,525.0 433.8,524.0 433.6,523.0 433.0,522.0 434.5,521.0 433.8,520.0 433.1,519.0 434.3,518.0" stroke-width="3.8"/><polyline points="434.3,518.0 434.0,517.0 433.7,516.0 433.8,515.0 434.0,514.0 433.0,513.0 434.2,512.0 434.0,511.0 434.1,510.0 433.7,509.0 433.7,508.0 434.6,507.0 432.7,506.0" stroke-width="3.8"/><polyline points="432.7,506.0 434.5,505.0 434.5,504.0 433.4,503.0 434.0,502.0 433.8,501.0 433.9,500.0 433.6,499.0 433.6,498.0 434.2,497.0 434.1,496.0 434.4,495.0 434.5,494.0" stroke-width="3.8"/><polyline points="434.5,494.0 434.0,493.0 435.1,492.0 435.0,491.0 433.7,490.0 434.3,489.0 434.2,488.0 434.6,487.0 434.0,486.0 435.1,485.0 434.3,484.0 435.4,483.0 434.1,482.0" stroke-width="3.8"/><polyline points="434.1,482.0 435.4,481.0 434.7,480.0 435.0,479.0 434.7,478.0 434.8,477.0 434.2,476.0 434.6,475.0 434.4,474.0 434.7,473.0 434.7,472.0 435.2,471.0 435.0,470.0" stroke-width="3.8"/><polyline points="435.0,470.0 434.8,469.0 434.2,468.0 435.4,467.0 434.7,466.0 434.9,465.0 435.3,464.0 435.1,463.0 435.2,462.0 435.3,461.0 434.4,460.0 435.6,459.0 435.2,458.0" stroke-width="3.8"/><polyline points="435.2,458.0 435.7,457.0 435.5,456.0 435.3,455.0 436.2,454.0 435.6,453.0 436.1,452.0 435.9,451.0 436.0,450.0 436.2,449.0 436.0,448.0 435.3,447.0 435.7,446.0" stroke-width="3.8"/><polyline points="435.7,446.0 436.5,445.0 435.8,444.0 435.7,443.0 436.0,442.0 436.5,441.0 435.6,440.0 436.0,439.0 435.9,438.0 435.8,437.0 436.6,436.0 436.0,435.0 436.3,434.0" stroke-width="3.8"/><polyline points="436.3,434.0 436.6,433.0 436.7,432.0 436.7,431.0 436.9,430.0 436.2,429.0 435.3,427.9 437.1,427.0 437.6,426.0 436.6,425.0 436.8,424.0 437.3,423.0 436.5,422.0" stroke-width="3.8"/><polyline points="436.5,422.0 436.9,421.0 436.8,420.0 437.4,419.0 437.2,418.0 438.1,417.0 436.7,416.0 436.9,415.0 436.5,414.0 437.5,413.0 437.4,412.0 437.3,411.0 437.8,410.0" stroke-width="3.8"/><polyline points="437.8,410.0 437.0,409.0 436.8,407.9 438.9,407.0 437.7,406.0 437.2,404.9 438.4,404.0 438.0,402.9 437.4,401.9 438.2,400.9 438.7,399.9 438.5,398.9 438.1,397.9" stroke-width="3.7"/><polyline points="438.1,397.9 439.2,396.9 437.8,395.8 438.2,394.8 438.7,393.8 437.8,392.8 438.9,391.8 438.8,390.8 439.2,389.8 438.8,388.8 439.9,387.8 438.0,386.7 438.6,385.7" stroke-width="3.7"/><polyline points="438.6,385.7 438.6,384.7 438.9,383.7 439.4,382.7 438.6,381.6 439.9,380.7 440.2,379.7 439.7,378.6 438.9,377.4 440.3,376.5 440.3,375.5 439.6,374.4 439.9,373.4" stroke-width="3.7"/><polyline points="439.9,373.4 440.1,372.3 439.7,371.2 440.9,370.4 441.5,369.4 441.2,368.3 440.7,367.2 441.2,366.2 441.4,367.3 440.5,368.6 442.1,369.3 441.8,370.5 442.5,371.4" stroke-width="3.7"/><polyline points="442.5,371.4 441.8,372.7 443.3,373.4 442.7,374.7 443.5,375.6 443.1,376.7 444.5,377.6 443.7,378.7 443.1,379.8 443.5,380.8 444.6,381.7 442.5,383.0 443.9,383.9" stroke-width="3.7"/><polyline points="443.9,383.9 444.5,384.8 444.6,385.8 445.1,386.8 443.7,388.0 444.0,389.0 444.0,390.0 445.6,390.9 446.2,391.9 444.0,392.6 444.7,391.7 445.6,390.9 445.5,389.8" stroke-width="3.7"/><polyline points="445.5,389.8 445.6,388.7 447.1,388.1 446.8,386.9 447.7,386.0 448.3,385.1 447.2,383.9 447.5,382.9 448.7,382.0 447.1,380.8 447.8,379.9 447.5,378.8 448.1,377.9" stroke-width="3.7"/><polyline points="448.1,377.9 448.0,376.8 448.6,375.8 448.3,374.8 449.4,373.9 448.3,372.7 448.8,371.8 449.4,370.8 448.5,369.7 448.7,368.7 449.1,367.7 449.1,366.7 449.9,365.7" stroke-width="3.7"/><polyline points="449.9,365.7 449.0,364.6 448.6,363.6 450.1,362.7 449.3,361.6 449.5,360.6 449.8,359.6 450.8,358.6 450.7,357.6 450.4,356.5 450.6,355.5 450.8,354.4 450.1,356.2" stroke-width="3.7"/><polyline points="450.1,356.2 451.0,357.1 452.8,358.0 451.6,359.0 453.1,360.0 452.8,361.0 452.8,362.0 451.3,363.0 451.1,364.0 452.4,365.0 452.7,366.0 451.6,367.0 452.8,368.0" stroke-width="3.7"/><polyline points="452.8,368.0 451.5,369.0 453.1,370.0 451.9,371.0 453.1,372.0 451.5,373.0 452.5,374.0 453.1,375.0 452.6,376.0 454.2,377.0 452.7,378.0 452.3,379.0 451.3,380.0" stroke-width="3.7"/><polyline points="451.3,380.0 453.5,381.0 452.1,382.0 452.1,383.0 452.4,384.0 453.1,385.0 452.8,386.0 453.5,387.0 452.8,388.0 453.7,389.0 453.3,390.0 453.0,391.0 453.6,392.0" stroke-width="3.7"/><polyline points="453.6,392.0 453.9,393.0 453.2,394.0 453.0,395.0 452.8,396.0 453.0,397.0 452.3,398.0 453.3,399.0 452.5,400.0 454.0,401.0 453.0,402.1 453.1,403.2 452.5,404.2" stroke-width="3.7"/><polyline points="452.5,404.2 454.0,405.2 452.6,406.3 453.8,407.3 454.0,408.3 454.8,409.3 453.4,410.5 454.3,411.4 453.6,412.5 454.0,413.6 453.7,414.6 454.2,415.6 454.7,416.7" stroke-width="3.7"/><polyline points="454.7,416.7 454.6,417.7 454.4,418.8 454.7,419.9 454.7,418.7 456.1,418.3 455.3,416.6 456.1,416.2 457.3,415.3 457.1,414.3 458.2,413.3 457.7,412.3 456.6,411.2" stroke-width="3.7"/><polyline points="456.6,411.2 456.6,410.1 457.3,409.2 457.4,408.1 457.9,407.2 457.3,406.1 457.2,405.1 457.3,404.0 457.8,403.1 457.4,402.0 457.8,401.0 458.4,400.0 458.0,399.0" stroke-width="3.7"/><polyline points="458.0,399.0 457.5,397.9 458.6,397.0 458.8,396.0 457.9,394.9 458.3,393.9 457.6,392.8 458.0,391.8 458.1,390.8 458.0,389.8 458.5,388.8 460.1,387.9 459.8,386.9" stroke-width="3.7"/><polyline points="459.8,386.9 458.9,385.8 459.5,384.8 459.4,383.8 459.5,382.8 458.2,381.7 459.5,380.7 458.9,379.7 459.4,378.7 459.7,377.7 457.6,376.5 458.3,375.6 460.3,374.7" stroke-width="3.7"/><polyline points="460.3,374.7 461.0,373.7 460.8,372.7 459.6,371.6 460.1,370.6 460.8,369.7 460.4,368.6 459.1,367.5 461.2,366.7 460.3,365.6 460.8,364.6 459.7,363.5 460.2,362.5" stroke-width="3.8"/><polyline points="460.2,362.5 461.9,361.7 460.8,360.6 461.5,359.6 462.4,358.7 461.4,357.6 461.5,356.6 461.4,355.5 462.2,354.6 461.9,353.6 462.1,352.6 462.9,351.6 462.3,350.5" stroke-width="3.8"/><polyline points="462.3,350.5 462.9,349.6 461.5,348.5 462.4,347.5 461.8,348.5 462.9,349.5 463.4,350.5 462.5,351.5 462.8,352.5 462.3,353.6 461.5,354.6 463.0,355.5 463.4,356.5" stroke-width="3.8"/><polyline points="463.4,356.5 463.0,357.6 463.2,358.6 463.2,359.6 462.2,360.6 462.6,361.6 462.8,362.6 463.3,363.6 462.5,364.7 463.3,365.6 462.1,366.7 463.3,367.6 463.4,368.6" stroke-width="3.8"/><polyline points="463.4,368.6 463.0,369.7 462.1,370.7 464.7,371.6 463.3,372.7 464.4,373.6 464.8,374.6 464.0,375.7 463.3,376.7 464.9,377.7 464.2,378.7 462.8,379.7 463.2,380.7" stroke-width="3.8"/><polyline points="463.2,380.7 464.2,381.7 463.7,382.7 464.1,383.7 464.5,384.7 464.7,385.7 463.5,386.7 464.7,387.7 464.4,388.7 464.7,389.7 465.3,390.7 464.6,391.7 463.4,392.7" stroke-width="3.8"/><polyline points="463.4,392.7 465.2,393.7 464.6,394.7 463.9,395.7 464.4,396.7 464.7,397.7 464.4,398.7 464.6,399.7 464.9,400.7 465.4,401.7 465.2,402.7 466.0,403.7 464.9,404.7" stroke-width="3.8"/><polyline points="464.9,404.7 465.2,405.7 465.5,406.7 466.1,407.7 465.5,408.8 466.3,409.8 465.0,410.9 466.0,411.8 464.9,412.9 466.0,413.9 465.1,415.0 465.2,416.0 465.1,417.0" stroke-width="3.8"/><polyline points="465.1,417.0 465.8,418.0 466.8,419.0 465.5,420.1 466.1,421.1 466.7,422.1 466.5,423.1 465.8,424.2 465.6,425.2 465.8,426.2 465.7,427.2 465.5,428.3 466.4,429.3" stroke-width="3.8"/><polyline points="466.4,429.3 466.2,430.3 466.1,429.3 466.2,428.3 466.4,427.3 466.7,426.3 466.4,425.2 466.8,424.2 467.4,423.3 466.8,422.2 467.4,421.2 466.7,420.1 466.8,419.1" stroke-width="3.8"/><polyline points="466.8,419.1 468.3,418.2 467.4,417.1 468.3,416.2 466.6,415.0 466.4,414.0 467.8,413.1 467.8,412.0 466.8,410.9 468.6,410.1 468.6,409.1 468.0,408.0 468.6,407.3" stroke-width="3.8"/><polyline points="468.6,407.3 469.8,406.7 470.8,405.8 471.2,406.8 470.6,407.9 471.3,408.9 471.4,409.9 472.0,410.9 471.2,412.0 470.6,413.1 471.7,414.0 471.8,415.0 472.3,416.0" stroke-width="3.8"/><polyline points="472.3,416.0 471.7,417.1 471.2,418.2 471.8,419.2 471.5,420.2 471.3,421.3 472.4,422.2 472.4,423.3 471.7,424.3 472.3,425.3 472.7,426.3 472.2,427.4 472.0,428.4" stroke-width="3.8"/><polyline points="472.0,428.4 471.7,429.4 472.8,430.4 472.2,431.4 472.1,432.4 473.9,433.4 472.1,434.5 472.6,435.5 473.4,436.4 471.7,437.5 472.4,438.5 472.5,439.5 471.5,440.6" stroke-width="3.8"/><polyline points="471.5,440.6 472.2,441.6 473.3,442.5 472.8,443.6 472.0,444.6 472.3,445.6 472.2,446.6 473.0,447.6 472.5,448.7 473.4,449.6 473.2,450.7 472.8,451.7 473.3,452.7" stroke-width="3.8"/><polyline points="473.3,452.7 472.9,453.7 473.4,454.7 473.3,455.8 472.6,456.9 473.4,457.9 473.3,458.9 474.6,459.8 474.4,460.9 473.8,462.0 473.5,462.9 474.2,462.0 474.3,461.0" stroke-width="3.8"/><polyline points="474.3,461.0 475.1,460.0 473.9,458.9 474.5,457.9 474.9,456.9 475.1,455.9 474.3,454.8 475.8,453.9 475.7,452.9 476.1,451.9 475.8,450.9 475.9,449.9 475.6,448.8" stroke-width="3.8"/><polyline points="475.6,448.8 475.7,447.8 475.3,446.7 476.3,445.8 475.5,444.7 476.8,443.8 476.6,442.8 476.2,441.7 476.7,440.7 477.5,439.6 477.4,440.6 477.4,441.7 478.0,442.6" stroke-width="3.8"/><polyline points="478.0,442.6 477.7,443.7 477.7,444.8 478.1,445.8 478.4,446.8 479.1,447.7 479.9,448.6 478.1,450.0 479.0,450.9 477.9,452.1 479.8,453.0 479.4,454.0 478.5,455.1" stroke-width="3.8"/><polyline points="478.5,455.1 478.0,456.2 478.4,457.2 478.5,458.2 480.4,459.1 478.9,460.2 478.0,461.3 481.2,462.2 479.3,463.3 477.9,464.4 480.5,465.3 479.5,466.4 478.3,467.5" stroke-width="3.8"/><polyline points="478.3,467.5 479.4,468.4 479.8,469.4 479.3,470.5 480.2,471.5 479.5,472.6 480.3,473.5 479.6,474.6 480.9,475.6 480.5,476.6 480.3,477.7 482.1,478.6 479.9,479.8" stroke-width="3.8"/><polyline points="479.9,479.8 481.0,480.7 481.4,481.7 482.2,482.6 481.4,483.8 482.2,484.8 481.3,486.0 480.8,487.2 481.7,487.9 481.8,486.9 482.5,486.0 482.7,485.0 483.5,484.2" stroke-width="3.9"/><polyline points="483.5,484.2 482.0,482.7 484.1,482.3 484.0,481.2 483.9,480.1 483.4,479.0 485.5,478.5 485.9,477.6 485.6,476.4 486.0,475.4 486.3,474.4 485.9,473.4 486.5,472.4" stroke-width="4.0"/><polyline points="486.5,472.4 485.2,471.2 486.8,470.4 484.4,469.0 487.3,468.4 487.8,467.4 487.6,466.4 486.2,465.1 486.7,464.2 486.7,463.2 487.9,464.2 487.0,465.3 487.5,466.3" stroke-width="4.1"/><polyline points="487.5,466.3 486.4,467.4 488.0,468.3 488.1,469.3 487.4,470.5 487.1,471.5 488.3,472.5 489.2,473.4 489.2,474.4 489.5,475.5 488.4,476.6 489.3,477.6 488.6,478.7" stroke-width="4.2"/><polyline points="488.6,478.7 489.8,479.6 489.0,480.7 488.5,481.8 489.7,482.7 488.1,483.8 489.0,484.8 489.7,485.8 489.4,486.8 489.3,487.8 489.9,488.8 489.8,489.8 489.2,490.9" stroke-width="4.3"/><polyline points="489.2,490.9 490.8,491.8 487.8,493.3 489.1,494.1 489.1,495.1 488.6,496.3 489.9,497.1 490.6,498.1 490.9,499.1 490.6,500.2 492.0,501.7 491.3,499.9 493.6,499.9" stroke-width="4.3"/><polyline points="493.6,499.9 493.0,498.1 493.2,496.8 493.6,496.3 495.0,497.2 494.2,498.3 495.8,499.2 494.4,500.4 495.4,501.3 494.3,502.5 496.3,503.3 495.8,504.4 496.1,505.4" stroke-width="4.3"/><polyline points="496.1,505.4 495.4,506.5 496.3,507.5 496.0,508.5 495.8,509.6 496.2,510.6 495.9,511.7 496.3,512.7 495.2,511.5 497.1,510.8 495.8,509.6 496.2,508.7 498.1,508.0" stroke-width="4.3"/><polyline points="498.1,508.0 496.6,506.7 497.1,505.8 497.9,504.9 497.1,503.7 497.7,502.8 497.7,501.8 497.9,500.8 497.4,499.7 499.1,499.0 498.6,497.9 499.3,497.0 499.2,495.8" stroke-width="4.3"/><polyline points="499.2,495.8 499.1,494.7 500.6,494.0 499.6,492.5 501.1,491.9 500.2,490.5 501.7,489.5 501.2,490.7 499.7,491.9 500.8,492.9 501.5,493.9 501.4,495.0 501.0,496.1" stroke-width="4.3"/><polyline points="501.0,496.1 502.3,497.0 503.4,498.0 502.9,499.1 502.3,500.2 502.9,501.2 502.7,502.3 501.6,503.5 502.9,504.5 503.2,505.5 502.8,506.6 502.0,507.6 501.7,508.7" stroke-width="4.3"/><polyline points="501.7,508.7 502.5,509.7 503.2,510.7 503.3,511.7 503.8,512.8 503.5,513.8 502.5,514.9 502.8,515.9 503.0,516.9 504.0,518.0 503.4,519.0 503.8,520.0 502.4,521.1" stroke-width="4.3"/><polyline points="502.4,521.1 503.4,522.1 503.5,523.2 503.5,524.2 503.7,525.2 503.9,526.3 504.5,527.2 504.2,528.4 504.5,529.4 504.2,530.5 504.7,531.5 505.6,532.6 505.1,531.4" stroke-width="4.3"/><polyline points="505.1,531.4 505.7,530.5 504.5,529.2 505.6,528.4 506.2,527.5 505.2,526.2 507.7,525.8 507.8,524.7 507.5,523.6 506.6,523.7 509.3,522.7 509.3,524.3 510.1,525.1" stroke-width="4.3"/><polyline points="510.1,525.1 511.3,525.7 510.9,527.4 511.7,528.2 512.7,529.0 514.2,529.5 514.2,530.8 514.4,531.8 514.3,532.8 515.7,533.6 515.6,534.7 514.4,535.9 515.2,536.7" stroke-width="4.3"/><polyline points="515.2,536.7 515.5,537.7 515.6,538.7 517.4,539.4 515.0,540.8 517.0,541.5 517.0,542.5 516.1,543.7 515.8,544.8 516.0,545.8 517.2,546.6 517.6,547.5 516.9,548.7" stroke-width="4.3"/><polyline points="516.9,548.7 517.3,549.6 518.7,550.2 517.2,551.8 519.4,552.2 518.4,553.6 518.8,554.6 518.9,555.7 519.5,556.6 519.5,557.7 520.1,558.6 521.1,559.3 521.1,560.2" stroke-width="4.3"/><polyline points="521.1,560.2 521.2,561.8 523.3,561.0 523.1,562.9 524.4,563.0 525.6,563.1 525.6,564.1 526.9,564.3 527.0,562.1 529.0,563.6 530.0,563.2 530.8,561.9 531.8,562.5" stroke-width="4.3"/><polyline points="531.8,562.5 532.7,563.3 533.5,564.3 535.3,564.1 535.5,565.3 535.6,566.5 537.0,567.1 536.6,568.6 537.3,569.5 537.4,570.7 538.6,571.6 538.1,572.7 538.0,573.8" stroke-width="4.3"/><polyline points="538.0,573.8 538.4,574.9 539.1,575.9 538.1,577.1 538.9,578.1 538.9,579.2 539.1,580.3 538.9,581.4 539.4,582.4 540.1,583.4 539.5,584.7 540.3,585.6 540.5,586.7" stroke-width="4.3"/><polyline points="540.5,586.7 540.7,587.8 541.7,588.7 541.4,589.9 541.6,591.1 543.0,591.5 543.1,592.8 543.7,593.8 544.0,595.0 545.1,595.6 545.3,596.7 545.4,597.7 546.7,598.3" stroke-width="4.2"/><polyline points="546.7,598.3 546.8,599.4 547.0,600.4 546.9,601.5 547.0,602.6 548.0,603.3 548.3,602.3 548.4,601.2 549.0,600.4 550.1,599.6 549.6,598.3 549.7,597.3 551.0,596.7" stroke-width="4.1"/><polyline points="551.0,596.7 550.7,595.4 551.1,594.4 551.3,593.2 552.6,592.6 552.5,591.4 552.1,590.0 554.6,589.0 553.7,590.5 554.5,591.4 554.4,592.6 554.8,593.7 554.7,594.9" stroke-width="4.0"/><polyline points="554.7,594.9 555.2,596.1 556.8,596.3 557.0,597.4 557.7,598.1 557.5,599.5 559.0,599.7 558.7,601.3 560.4,600.9 560.7,602.4 561.7,603.1 562.9,603.2 564.0,603.8" stroke-width="3.8"/><polyline points="564.0,603.8 565.2,604.0 566.4,604.1 567.5,605.0 568.6,604.8 569.6,605.3 570.6,605.4 571.6,605.8 572.8,605.5 573.8,606.0 574.8,605.9 575.9,605.9 576.9,606.3" stroke-width="3.6"/><polyline points="576.9,606.3 577.9,606.1 579.0,606.1 580.0,606.3 581.0,606.0 582.0,606.5 583.0,606.6 584.0,606.0 585.0,606.3 586.0,606.2 587.0,606.2 588.0,606.5 589.0,606.6" stroke-width="3.4"/><polyline points="589.0,606.6 590.0,606.4 591.0,606.2 592.0,606.7 593.1,606.2 594.1,606.2 595.1,606.2 596.1,606.5 597.1,606.3 598.1,606.3 599.1,606.2 600.1,606.4 601.1,606.3" stroke-width="3.4"/><polyline points="601.1,606.3 602.1,606.7 603.1,606.3 604.1,606.1 605.1,606.7 606.1,606.4 607.1,606.3 608.1,606.4 609.1,606.3 610.1,605.9 611.1,606.3 612.1,606.6 613.1,606.5" stroke-width="3.4"/><polyline points="613.1,606.5 614.1,606.2 615.1,606.3 616.1,606.4 617.1,606.7 618.1,606.4 619.2,606.4 620.2,606.2 621.2,606.3 622.2,606.2 623.2,606.3 624.2,606.1 625.2,606.3" stroke-width="3.4"/><polyline points="625.2,606.3 626.2,606.1 627.2,606.6 628.2,606.5 629.2,606.3 630.2,606.3 631.2,606.5 632.2,606.4 633.2,606.2 634.2,605.8 635.2,606.0 636.2,606.5 637.2,606.3" stroke-width="3.4"/><polyline points="637.2,606.3 638.2,606.2 639.2,606.0 640.2,606.5 641.2,606.1 642.2,606.4 643.2,606.3 644.2,606.2 645.3,606.1 646.3,606.4 647.3,606.1 648.3,606.2 649.3,606.3" stroke-width="3.4"/><polyline points="649.3,606.3 650.3,606.6 651.3,606.3 652.3,606.4 653.3,606.5 654.3,605.9 655.3,606.2 656.3,606.3 657.3,606.2 658.3,606.5 659.3,606.3 660.3,606.5 661.3,606.5" stroke-width="3.4"/><polyline points="661.3,606.5 662.3,606.3 663.3,606.4 664.3,606.7 665.3,606.6 666.3,606.4 667.3,606.0 668.3,606.2 669.3,606.3 670.3,606.4 671.4,606.4 672.4,606.4 673.4,606.2" stroke-width="3.4"/><polyline points="673.4,606.2 674.4,606.5 675.4,606.6 676.4,606.4 677.4,606.4 678.4,606.5 679.4,606.3 680.4,606.5 681.4,606.6 682.4,606.2 683.4,606.4 684.4,606.2 685.4,606.2" stroke-width="3.4"/><polyline points="685.4,606.2 686.4,606.0 687.4,606.4 688.4,606.9 689.4,606.3 690.4,606.7 691.4,606.6 692.4,606.3 693.4,606.6 694.4,606.3 695.4,606.0 696.4,606.6 697.5,606.3" stroke-width="3.4"/><polyline points="697.5,606.3 698.5,606.4 699.5,606.5 700.5,606.6 701.5,606.4 702.5,606.5 703.5,606.5 704.5,606.2 705.5,606.6 706.5,606.3 707.5,606.5 708.5,606.6 709.5,606.4" stroke-width="3.4"/></g>
<g font-size="23" fill="#555"><text x="88.5" y="633.5" text-anchor="middle">1540</text><text x="177.3" y="633.5" text-anchor="middle">1550</text><text x="266.1" y="633.5" text-anchor="middle">1560</text><text x="354.9" y="633.5" text-anchor="middle">1570</text><text x="443.6" y="633.5" text-anchor="middle">1580</text><text x="532.4" y="633.5" text-anchor="middle">1590</text><text x="621.2" y="633.5" text-anchor="middle">1600</text><text x="710.0" y="633.5" text-anchor="middle">1610</text><text x="82" y="616.5" text-anchor="end">0</text><text x="82" y="535.5" text-anchor="end">0.5</text><text x="82" y="454.4" text-anchor="end">1</text><text x="82" y="373.4" text-anchor="end">1.5</text><text x="82" y="292.3" text-anchor="end">2</text><text x="82" y="211.2" text-anchor="end">2.5</text><text x="82" y="130.2" text-anchor="end">3</text></g>
<text x="86" y="114" font-size="24" fill="#555">x</text>
<text x="104.8" y="114.2" font-size="23.2" fill="#555" textLength="25" lengthAdjust="spacingAndGlyphs">10</text>
<text x="128.7" y="100.4" font-size="17.5" fill="#555">-</text><text x="134" y="98.3" font-size="17.5" fill="#555">9</text>
<text x="397" y="667.4" text-anchor="middle" font-size="30.7" fill="#111">Wavelength (nm)</text>
<text transform="translate(35.3,365.3) rotate(-90)" text-anchor="middle" font-size="31" fill="#111" textLength="242" lengthAdjust="spacingAndGlyphs">Transmission (W)</text>
<g font-weight="bold" font-size="23" fill="#f00">
<text x="189" y="530.5">5</text><text x="222" y="470.2">4</text><text x="274" y="529.8">3</text><text x="375.5" y="513">2</text><text x="426" y="572">1</text>
</g>
<text x="791.5" y="30.6" font-weight="bold" font-size="23.7" fill="#000" textLength="129" lengthAdjust="spacingAndGlyphs">1578.28 nm</text><text x="918" y="55.2" font-size="23.2" fill="#222" textLength="85" lengthAdjust="spacingAndGlyphs">Cavity 1</text><text x="756.5" y="79.6" font-weight="bold" font-size="23" fill="#f00">1</text><rect x="788.7" y="76.0" width="51" height="5.6" fill="none" stroke="#ffc000" stroke-width="2.9" stroke-dasharray="7.5 3.8"/><rect x="924" y="76.0" width="77" height="5.6" fill="none" stroke="#ffc000" stroke-width="2.9" stroke-dasharray="7.5 3.8"/><rect x="839.2" y="59.0" width="84.6" height="33.5" rx="6.5" fill="none" stroke="#f00" stroke-width="2.5" stroke-dasharray="7.3 4.15" stroke-dashoffset="8.85"/><ellipse cx="843.7" cy="75.9" rx="4.2" ry="4.2" fill="#000"/><ellipse cx="869.5" cy="75.6" rx="2.2" ry="1.6" fill="#000"/><ellipse cx="917.4" cy="76.2" rx="3" ry="3.2" fill="#000"/><line x1="915.0" y1="59.3" x2="883.7" y2="65.7" stroke="#000" stroke-width="2.7" stroke-linecap="round"/><polygon points="874.4,67.6 883.7,60.8 883.2,65.8 885.6,70.2" fill="#000"/><text x="791.5" y="183.4" font-weight="bold" font-size="23.7" fill="#000" textLength="129" lengthAdjust="spacingAndGlyphs">1572.78 nm</text><text x="918" y="207.0" font-size="23.2" fill="#222" textLength="85" lengthAdjust="spacingAndGlyphs">Cavity 2</text><text x="756.5" y="241.3" font-weight="bold" font-size="23" fill="#f00">2</text><rect x="788.7" y="228.3" width="51" height="5.6" fill="none" stroke="#ffc000" stroke-width="2.9" stroke-dasharray="7.5 3.8"/><rect x="924" y="228.3" width="77" height="5.6" fill="none" stroke="#ffc000" stroke-width="2.9" stroke-dasharray="7.5 3.8"/><rect x="839.2" y="211.7" width="84.6" height="33.5" rx="6.5" fill="none" stroke="#f00" stroke-width="2.5" stroke-dasharray="7.3 4.15" stroke-dashoffset="8.85"/><ellipse cx="843.4" cy="229.9" rx="4" ry="4.2" fill="#000"/><ellipse cx="875.4" cy="226.7" rx="3.3" ry="2.6" fill="#000"/><ellipse cx="916.7" cy="228.2" rx="3.8" ry="3.9" fill="#000"/><line x1="915.7" y1="211.3" x2="892.1" y2="217.2" stroke="#000" stroke-width="2.7" stroke-linecap="round"/><polygon points="882.9,219.5 891.9,212.3 891.6,217.3 894.2,221.6" fill="#000"/><text x="791.5" y="337.2" font-weight="bold" font-size="23.7" fill="#000" textLength="129" lengthAdjust="spacingAndGlyphs">1560.36 nm</text><text x="918" y="360.3" font-size="23.2" fill="#222" textLength="85" lengthAdjust="spacingAndGlyphs">Cavity 3</text><text x="756.5" y="386.2" font-weight="bold" font-size="23" fill="#f00">3</text><rect x="788.7" y="380.9" width="51" height="5.6" fill="none" stroke="#ffc000" stroke-width="2.9" stroke-dasharray="7.5 3.8"/><rect x="924" y="380.9" width="77" height="5.6" fill="none" stroke="#ffc000" stroke-width="2.9" stroke-dasharray="7.5 3.8"/><rect x="839.2" y="364.4" width="84.6" height="33.5" rx="6.5" fill="none" stroke="#f00" stroke-width="2.5" stroke-dasharray="7.3 4.15" stroke-dashoffset="8.85"/><ellipse cx="844.5" cy="381.9" rx="4.6" ry="4.6" fill="#000"/><ellipse cx="881.5" cy="378.6" rx="2" ry="1.8" fill="#000"/><ellipse cx="918.9" cy="381.1" rx="3" ry="3" fill="#000"/><line x1="915.0" y1="363.8" x2="899.9" y2="369.6" stroke="#000" stroke-width="2.7" stroke-linecap="round"/><polygon points="891.0,373.0 899.1,364.8 899.4,369.8 902.5,373.7" fill="#000"/><text x="791.5" y="488.4" font-weight="bold" font-size="23.7" fill="#000" textLength="129" lengthAdjust="spacingAndGlyphs">1556.12 nm</text><text x="918" y="513.3" font-size="23.2" fill="#222" textLength="85" lengthAdjust="spacingAndGlyphs">Cavity 4</text><text x="756.5" y="545.1" font-weight="bold" font-size="23" fill="#f00">4</text><rect x="788.7" y="533.7" width="51" height="5.6" fill="none" stroke="#ffc000" stroke-width="2.9" stroke-dasharray="7.5 3.8"/><rect x="924" y="533.7" width="77" height="5.6" fill="none" stroke="#ffc000" stroke-width="2.9" stroke-dasharray="7.5 3.8"/><rect x="839.2" y="517.0" width="84.6" height="33.5" rx="6.5" fill="none" stroke="#f00" stroke-width="2.5" stroke-dasharray="7.3 4.15" stroke-dashoffset="8.85"/><ellipse cx="843.4" cy="534.9" rx="4" ry="4.2" fill="#000"/><ellipse cx="883.3" cy="532.4" rx="2.4" ry="1.6" fill="#000"/><ellipse cx="916.3" cy="534.1" rx="3.8" ry="3.6" fill="#000"/><line x1="914.6" y1="517.1" x2="899.9" y2="522.3" stroke="#000" stroke-width="2.7" stroke-linecap="round"/><polygon points="891.0,525.5 899.3,517.5 899.5,522.5 902.5,526.5" fill="#000"/><text x="791.5" y="642.2" font-weight="bold" font-size="23.7" fill="#000" textLength="129" lengthAdjust="spacingAndGlyphs">1551.72 nm</text><text x="918" y="665.3" font-size="23.2" fill="#222" textLength="85" lengthAdjust="spacingAndGlyphs">Cavity 5</text><text x="756.5" y="691.9" font-weight="bold" font-size="23" fill="#f00">5</text><rect x="788.7" y="686.5" width="51" height="5.6" fill="none" stroke="#ffc000" stroke-width="2.9" stroke-dasharray="7.5 3.8"/><rect x="924" y="686.5" width="77" height="5.6" fill="none" stroke="#ffc000" stroke-width="2.9" stroke-dasharray="7.5 3.8"/><rect x="839.2" y="670.0" width="84.6" height="33.5" rx="6.5" fill="none" stroke="#f00" stroke-width="2.5" stroke-dasharray="7.3 4.15" stroke-dashoffset="8.85"/><ellipse cx="844.5" cy="687.9" rx="4.6" ry="4.6" fill="#000"/><ellipse cx="892.2" cy="684.8" rx="1.5" ry="1.2" fill="#000"/><ellipse cx="918.9" cy="686.9" rx="3.2" ry="3.2" fill="#000"/><line x1="915.0" y1="669.6" x2="908.1" y2="673.4" stroke="#000" stroke-width="2.7" stroke-linecap="round"/><polygon points="899.8,678.0 906.7,668.8 907.7,673.6 911.3,677.1" fill="#000"/><text x="808" y="140.2" font-size="23.2" fill="#222" textLength="107" lengthAdjust="spacingAndGlyphs">Interfaces</text><line x1="864.2" y1="109.7" x2="853.8" y2="94.1" stroke="#000" stroke-width="2.7" stroke-linecap="round"/><polygon points="848.5,86.2 858.3,92.3 853.5,93.7 850.4,97.6" fill="#000"/><line x1="882.2" y1="117.6" x2="902.0" y2="84.2" stroke="#000" stroke-width="2.7" stroke-linecap="round"/><polygon points="906.9,76.0 905.6,87.5 902.3,83.7 897.5,82.6" fill="#000"/>
</svg>
</body></html>
